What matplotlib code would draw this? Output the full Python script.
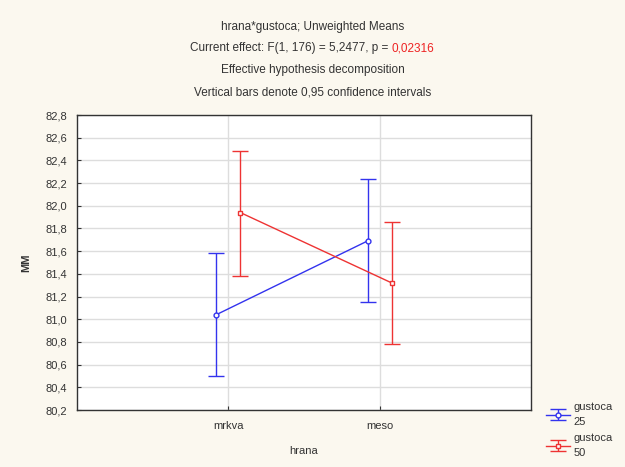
import numpy as np
import matplotlib.pyplot as plt

categories = ['mrkva', 'meso']
series = ['gustoca\n25', 'gustoca\n50']
means_25 = [81.04, 81.69]
lower_25 = [80.50, 81.15]
upper_25 = [81.58, 82.24]
means_50 = [81.94, 81.32]
lower_50 = [81.38, 80.78]
upper_50 = [82.48, 81.86]
yticks = [80.2, 80.4, 80.6, 80.8, 81.0, 81.2, 81.4, 81.6, 81.8, 82.0, 82.2, 82.4, 82.6, 82.8]

plt.rcParams['font.family'] = ['Liberation Sans', 'DejaVu Sans']
bg = '#fbf8ef'
txt = '#333333'
fs = 8.5

fig = plt.figure(figsize=(6.25, 4.67), dpi=100, facecolor=bg)
ax = fig.add_axes([0.1232, 0.122, 0.7264, 0.6317])
ax.set_facecolor('white')

x = np.arange(len(categories))
off = 0.08
handles = []
for m, lo, up, dx, col, mk, lab in [
        (means_25, lower_25, upper_25, -off, '#3333ee', 'o', series[0]),
        (means_50, lower_50, upper_50, off, '#ee3333', 's', series[1])]:
    m = np.array(m)
    err = [m - np.array(lo), np.array(up) - m]
    h = ax.errorbar(x + dx, m, yerr=err, color=col, marker=mk, ms=3.5,
                    mfc='white', mec=col, mew=1, lw=1, capsize=6,
                    capthick=1, elinewidth=1, label=lab)
    handles.append(h)

ax.set_xlim(-1, 2)
ax.set_ylim(80.2, 82.8)
ax.set_xticks(x)
ax.set_xticklabels(categories)
ax.set_yticks(yticks)
ax.set_yticklabels([f'{v:.1f}'.replace('.', ',') for v in yticks])
ax.tick_params(labelsize=fs - 0.5, colors=txt, direction='in', length=3)
ax.tick_params(axis='x', pad=8)
ax.tick_params(axis='y', pad=7)
ax.grid(True, color='#dddddd', lw=1)
ax.set_axisbelow(True)
for s in ax.spines.values():
    s.set_color('#333333')
    s.set_linewidth(1)

ax.set_xlabel('hrana', fontsize=fs - 0.5, color=txt, labelpad=11)
ax.set_ylabel('MM', fontsize=fs - 0.5, color=txt, labelpad=10, fontweight='bold')

fig.text(0.5, 0.936, 'hrana*gustoca; Unweighted Means', ha='center', va='baseline', fontsize=fs, color=txt)
fig.text(0.5, 0.843, 'Effective hypothesis decomposition', ha='center', va='baseline', fontsize=fs, color=txt)
fig.text(0.5, 0.796, 'Vertical bars denote 0,95 confidence intervals', ha='center', va='baseline', fontsize=fs, color=txt)

# second line with red p-value
black = 'Current effect: F(1, 176) = 5,2477, p = '
red = '0,02316'
t1 = fig.text(0, 0.890, black, ha='left', va='baseline', fontsize=fs, color=txt)
t2 = fig.text(0, 0.890, red, ha='left', va='baseline', fontsize=fs, color='#ee2222')
fig.canvas.draw()
r = fig.canvas.get_renderer()
w1 = t1.get_window_extent(r).width / fig.bbox.width
w2 = t2.get_window_extent(r).width / fig.bbox.width
start = 0.5 - (w1 + w2) / 2
t1.set_x(start)
t2.set_x(start + w1)

leg = ax.legend(handles=handles, loc='upper left', bbox_to_anchor=(1.01, 0.06),
                frameon=False, fontsize=fs - 0.5, handlelength=2.2, labelspacing=0.55,
                handletextpad=0.3)
for t in leg.get_texts():
    t.set_color(txt)
    t.set_linespacing(1.6)

fig.savefig('out.png', dpi=100, facecolor=bg)
